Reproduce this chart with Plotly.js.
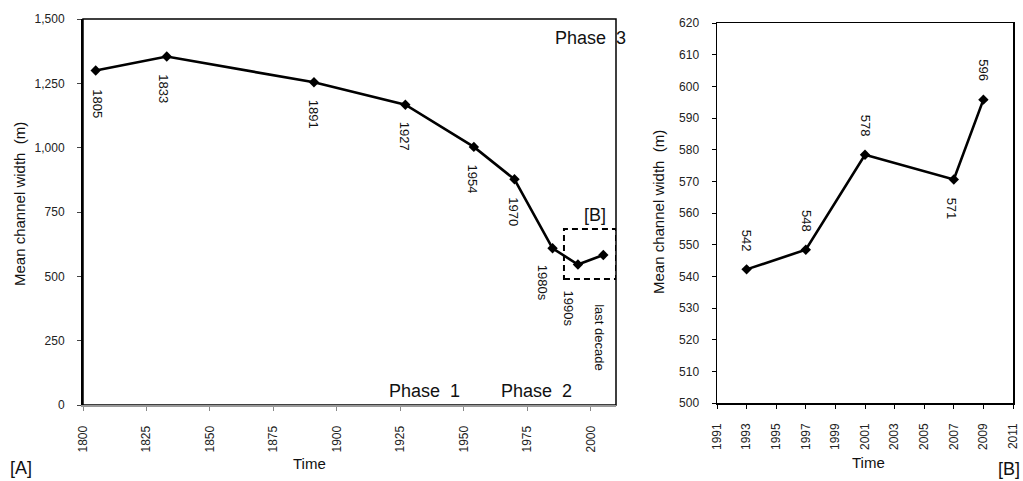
<!DOCTYPE html>
<html>
<head>
<meta charset="utf-8">
<script src="https://cdn.plot.ly/plotly-3.0.1.min.js"></script>
<style>html,body{margin:0;padding:0;background:#fff;}#chart{width:1023px;height:481px;}</style>
</head>
<body>
<div id="chart"></div>
<script>
// ---- Data: panel [A] ----
const yearsA = [1805, 1833, 1891, 1927, 1954, 1970, 1985, 1995, 2005];
const widthA = [1300, 1354, 1254, 1167, 1003, 877, 609, 546, 583];
const labelsA = ['1805', '1833', '1891', '1927', '1954', '1970', '1980s', '1990s', 'last decade'];
const yTicksA = [0, 250, 500, 750, 1000, 1250, 1500];
const xTicksA = [1800, 1825, 1850, 1875, 1900, 1925, 1950, 1975, 2000];

// ---- Data: panel [B] ----
const yearsB = [1993, 1997, 2001, 2007, 2009];
const widthB = [542.2, 548.4, 578.4, 570.6, 595.8];
const labelsB = widthB.map(v => String(Math.round(v)));
const xTicksB = [1991, 1993, 1995, 1997, 1999, 2001, 2003, 2005, 2007, 2009, 2011];
const yTicksB = [500, 510, 520, 530, 540, 550, 560, 570, 580, 590, 600, 610, 620];

// inset box extent (data units of panel A)
const insetYears = [1989.5, 2010];
const insetWidths = [490, 684];

// ---- label placement (styling only, px) ----
const shiftXA = [1, -3, -1, -1, -1, -1, -10, -9, -4];
const gapA = [17, 16, 16, 15, 16, 16, 14, 24, 47];
const sideB = ['above', 'above', 'above', 'below', 'above'];

const FONT = 'Liberation Sans, Arial, sans-serif';
const TXT = '#111';
const NB = '\u00A0';

const lineStyle = {color: '#000', width: 2.6};
const markerStyle = {symbol: 'diamond', size: 8, color: '#000'};

const traces = [
  {x: yearsA, y: widthA, xaxis: 'x', yaxis: 'y', type: 'scatter', mode: 'lines+markers',
   line: lineStyle, marker: markerStyle, hoverinfo: 'x+y', cliponaxis: false},
  {x: yearsB, y: widthB, xaxis: 'x2', yaxis: 'y2', type: 'scatter', mode: 'lines+markers',
   line: lineStyle, marker: markerStyle, hoverinfo: 'x+y', cliponaxis: false}
];

const annotations = [];
labelsA.forEach((t, i) => {
  annotations.push({xref: 'x', yref: 'y', x: yearsA[i], y: widthA[i], text: t, showarrow: false,
    textangle: 90, xanchor: 'center', yanchor: 'top', xshift: shiftXA[i], yshift: -gapA[i],
    font: {family: FONT, size: 13, color: TXT}});
});
labelsB.forEach((t, i) => {
  const above = sideB[i] === 'above';
  annotations.push({xref: 'x2', yref: 'y2', x: yearsB[i], y: widthB[i], text: t, showarrow: false,
    textangle: 90, xanchor: 'center', yanchor: above ? 'bottom' : 'top', yshift: above ? 16 : -16,
    xshift: i === 3 ? -2 : 0,
    font: {family: FONT, size: 13, color: TXT}});
});

function paperText(text, xpx, ypx, size, extra) {
  return Object.assign({xref: 'paper', yref: 'paper', x: xpx / 1023, y: 1 - ypx / 481, text: text,
    showarrow: false, xanchor: 'center', yanchor: 'middle',
    font: {family: FONT, size: size, color: TXT}}, extra || {});
}
annotations.push(paperText('Phase' + NB + NB + '3', 590, 38, 18));
annotations.push(paperText('Phase' + NB + NB + '1', 424, 391, 18));
annotations.push(paperText('Phase' + NB + NB + '2', 536, 391, 18));
annotations.push(paperText('[B]', 595, 215, 18));
annotations.push(paperText('[A]', 21, 468, 18));
annotations.push(paperText('[B]', 1009, 469, 18));
annotations.push(paperText('Time', 309, 463, 15));
annotations.push(paperText('Time', 868, 462, 15));
annotations.push(paperText('Mean channel width' + NB + NB + '(m)', 19, 204, 15, {textangle: -90}));
annotations.push(paperText('Mean channel width' + NB + NB + '(m)', 658, 212, 15, {textangle: -90}));

const tickFont = {family: FONT, size: 12, color: '#222'};

const layout = {
  width: 1023, height: 481,
  margin: {l: 0, r: 0, t: 0, b: 0},
  paper_bgcolor: '#fff', plot_bgcolor: '#fff',
  showlegend: false,
  font: {family: FONT, color: TXT},
  xaxis: {
    domain: [83 / 1023, 616 / 1023], anchor: 'y',
    range: [1800, 2010], tickmode: 'array', tickvals: xTicksA, ticktext: xTicksA.map(String),
    tickangle: -90, tickfont: tickFont, ticks: 'outside', ticklen: 4, tickcolor: '#888',
    ticklabelstandoff: 10, ticklabeloverflow: 'allow',
    showline: true, linecolor: '#999', linewidth: 2, mirror: false,
    showgrid: false, zeroline: false, automargin: false
  },
  yaxis: {
    domain: [1 - 405 / 481, 1 - 19 / 481], anchor: 'x',
    range: [0, 1500], tickmode: 'array', tickvals: yTicksA, ticktext: yTicksA.map(v => v.toLocaleString('en-US')),
    tickfont: tickFont, ticks: 'outside', ticklen: 4, tickcolor: '#444',
    ticklabelstandoff: 10, ticklabeloverflow: 'allow',
    showline: true, linecolor: '#000', linewidth: 2, mirror: false,
    showgrid: false, zeroline: false, automargin: false
  },
  xaxis2: {
    domain: [717 / 1023, 1013 / 1023], anchor: 'y2',
    range: [1991, 2011], tickmode: 'array', tickvals: xTicksB, ticktext: xTicksB.map(String),
    tickangle: -90, tickfont: tickFont, ticks: 'outside', ticklen: 4, tickcolor: '#000',
    ticklabelstandoff: 10, ticklabeloverflow: 'allow',
    showline: true, linecolor: '#000', linewidth: 1.5, mirror: true,
    showgrid: false, zeroline: false, automargin: false
  },
  yaxis2: {
    domain: [1 - 403 / 481, 1 - 23 / 481], anchor: 'x2',
    range: [500, 620], tickmode: 'array', tickvals: yTicksB, ticktext: yTicksB.map(String),
    tickfont: tickFont, ticks: 'outside', ticklen: 4, tickcolor: '#000',
    ticklabelstandoff: 10, ticklabeloverflow: 'allow',
    showline: true, linecolor: '#000', linewidth: 1.5, mirror: true,
    showgrid: false, zeroline: false, automargin: false
  },
  shapes: [
    {type: 'rect', xref: 'x domain', yref: 'y domain', x0: 0, x1: 1, y0: 0, y1: 1,
     line: {color: '#000', width: 1.5}, layer: 'below'},
    {type: 'rect', xref: 'x', yref: 'y', x0: insetYears[0], x1: insetYears[1],
     y0: insetWidths[0], y1: insetWidths[1],
     line: {color: '#000', width: 2, dash: '6px,4px'}, layer: 'above'}
  ],
  annotations: annotations
};

Plotly.newPlot('chart', traces, layout, {displayModeBar: false, staticPlot: true});
</script>
</body>
</html>
